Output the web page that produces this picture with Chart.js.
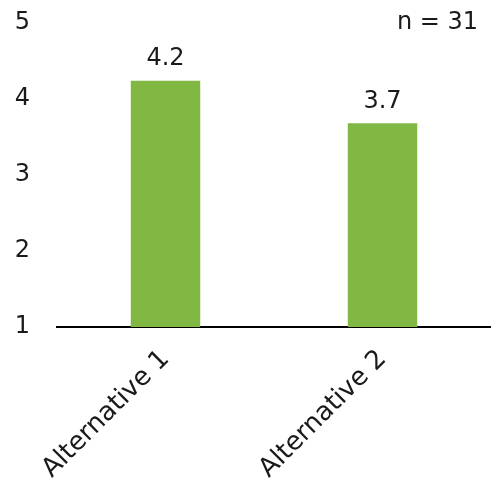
<!DOCTYPE html>
<html>
<head>
<meta charset="utf-8">
<script src="https://cdn.jsdelivr.net/npm/chart.js@4/dist/chart.umd.min.js"></script>
<style>
  html, body { margin: 0; padding: 0; background: #fff; }
  #wrap { width: 491px; height: 493px; }
</style>
</head>
<body>
<div id="wrap"><canvas id="chart"></canvas></div>
<script>
const categories = ['Alternative 1', 'Alternative 2'];
const values = [4.24, 3.68];
const valueLabels = ['4.2', '3.7'];
const yTicks = [1, 2, 3, 4, 5];
const note = 'n = 31';

const FONT = '"DejaVu Sans", sans-serif';

const labelsPlugin = {
  id: 'labels',
  afterDatasetsDraw(chart) {
    const ctx = chart.ctx;
    const meta = chart.getDatasetMeta(0);
    ctx.save();
    ctx.fillStyle = '#1a1a1a';
    ctx.font = '24px ' + FONT;
    ctx.textAlign = 'center';
    ctx.textBaseline = 'bottom';
    meta.data.forEach((bar, i) => {
      ctx.fillText(valueLabels[i], bar.x, bar.y - 10);
    });
    ctx.textAlign = 'right';
    ctx.textBaseline = 'middle';
    ctx.fillText(note, chart.width - 13, 23);
    ctx.restore();
  }
};

new Chart(document.getElementById('chart'), {
  type: 'bar',
  data: {
    labels: categories,
    datasets: [{
      data: values,
      backgroundColor: '#80b843',
      barPercentage: 0.32,
      categoryPercentage: 1
    }]
  },
  options: {
    responsive: true,
    maintainAspectRatio: false,
    animation: false,
    layout: { padding: { top: 23, left: 0, right: 0, bottom: 0 } },
    plugins: { legend: { display: false }, tooltip: { enabled: false } },
    scales: {
      x: {
        grid: { display: false, drawTicks: false },
        border: { display: true, color: '#000', width: 2 },
        afterFit(axis) {
          axis.paddingLeft = 0;
          axis.paddingRight = 0;
          axis.height = 166;
        },
        ticks: {
          color: '#1a1a1a',
          font: { family: FONT, size: 26 },
          minRotation: 45,
          maxRotation: 45,
          padding: 17
        }
      },
      y: {
        min: 1,
        max: 5,
        afterBuildTicks(axis) { axis.ticks = yTicks.map(v => ({ value: v })); },
        afterFit(axis) {
          axis.width = 57;
          axis.paddingTop = 0;
          axis.paddingBottom = 0;
        },
        grid: { display: false, drawTicks: false },
        border: { display: false },
        ticks: {
          color: '#1a1a1a',
          font: { family: FONT, size: 24 },
          padding: 27
        }
      }
    }
  },
  plugins: [labelsPlugin]
});
</script>
</body>
</html>
